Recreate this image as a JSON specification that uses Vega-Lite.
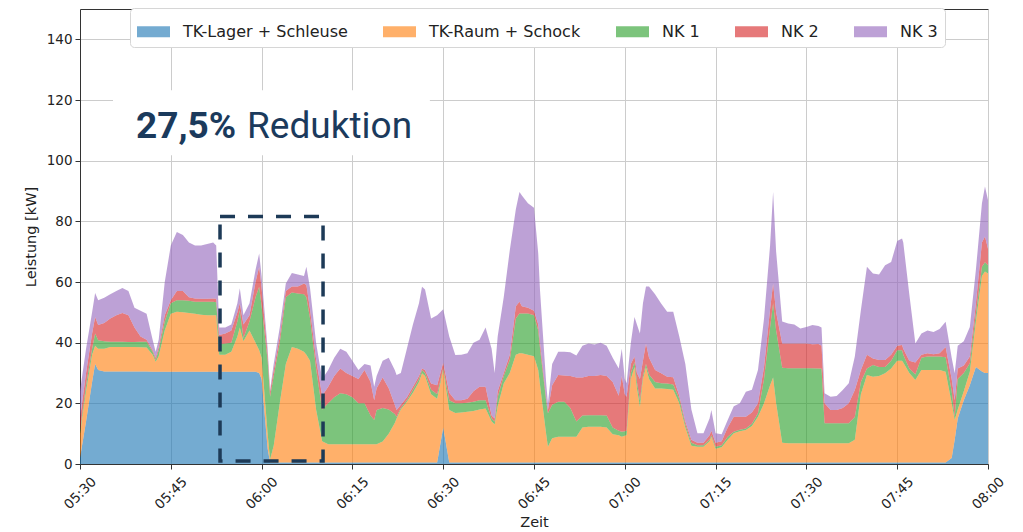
{
"$schema": "https://vega.github.io/schema/vega-lite/v6.json",
"width": 908, "height": 455,
"autosize": {"type": "none"},
"padding": {"left": 80, "top": 9, "right": 35, "bottom": 68},
"background": "white",
"config": {
 "font": "DejaVu Sans",
 "view": {"stroke": "#333", "strokeWidth": 1},
 "axis": {"domainColor": "#333", "tickColor": "#333", "labelColor": "#222", "titleColor": "#222", "labelFontSize": 13.5, "titleFontSize": 14.5, "titleFontWeight": "normal", "gridColor": "#cccccc", "gridWidth": 1, "tickSize": 5, "labelFont": "DejaVu Sans", "titleFont": "DejaVu Sans"}
},
"layer": [
{
 "data": {"values": [
{"m":0,"a":2,"b":8,"c":1,"d":4,"e":9},
{"m":1,"a":14,"b":10,"c":2,"d":4,"e":8},
{"m":2,"a":27,"b":9,"c":2,"d":5,"e":7},
{"m":2.5,"a":33,"b":6,"c":4,"d":5.5,"e":7.9},
{"m":3,"a":31,"b":7,"c":2.8,"d":5,"e":8.2},
{"m":4,"a":30.5,"b":7.5,"c":2.5,"d":6,"e":8.3},
{"m":5,"a":30.5,"b":8.1,"c":1.7,"d":7.7,"e":8},
{"m":6,"a":30.5,"b":8.1,"c":1.7,"d":8.7,"e":8},
{"m":7,"a":30.5,"b":8.1,"c":1.7,"d":9.5,"e":8.2},
{"m":8,"a":30.5,"b":8.1,"c":1.6,"d":8.8,"e":8},
{"m":9,"a":30.5,"b":8.1,"c":1.6,"d":4.8,"e":6.5},
{"m":10,"a":30.5,"b":8,"c":1.8,"d":1.7,"e":8.5},
{"m":11,"a":30.5,"b":7.9,"c":1.9,"d":0.7,"e":8.5},
{"m":12,"a":30.4,"b":5.6,"c":1,"d":0.5,"e":3.5},
{"m":12.5,"a":30.4,"b":3.3,"c":0.6,"d":0.7,"e":2},
{"m":13,"a":30.4,"b":5.1,"c":2,"d":1,"e":2.5},
{"m":14,"a":30.4,"b":13.6,"c":3,"d":2,"e":11},
{"m":15,"a":30.4,"b":19.1,"c":3.5,"d":1,"e":18},
{"m":16,"a":30.4,"b":19.8,"c":3.8,"d":3,"e":19.5},
{"m":17,"a":30.4,"b":19.6,"c":4,"d":3,"e":18.5},
{"m":18,"a":30.4,"b":19.4,"c":4,"d":1.2,"e":18},
{"m":19,"a":30.4,"b":19.1,"c":4,"d":1.1,"e":17.4},
{"m":20,"a":30.4,"b":18.8,"c":4.3,"d":1,"e":17.5},
{"m":21,"a":30.4,"b":18.6,"c":4.5,"d":1,"e":18},
{"m":22,"a":30.4,"b":18.6,"c":4.5,"d":1.1,"e":18.4},
{"m":22.5,"a":30.4,"b":18.6,"c":4.3,"d":1.2,"e":17.5},
{"m":23,"a":30.4,"b":5.6,"c":3.5,"d":3,"e":2.5},
{"m":24,"a":30.4,"b":5.6,"c":3.7,"d":3.3,"e":2},
{"m":25,"a":30.4,"b":6.6,"c":3,"d":4,"e":2},
{"m":26,"a":30.4,"b":11.6,"c":5,"d":3,"e":3},
{"m":26.4,"a":30.4,"b":14.6,"c":5.7,"d":2.3,"e":4.9},
{"m":27,"a":30.4,"b":10.1,"c":1,"d":4.5,"e":3},
{"m":28,"a":30.4,"b":13.6,"c":3,"d":2,"e":4},
{"m":29,"a":30.4,"b":9.6,"c":15,"d":5,"e":4},
{"m":29.6,"a":30,"b":7.5,"c":20.9,"d":6.6,"e":4.4},
{"m":30,"a":28,"b":7,"c":17,"d":6,"e":4},
{"m":31,"a":5,"b":5,"c":24,"d":2,"e":2},
{"m":31.4,"a":0.5,"b":1,"c":20.7,"d":1.6,"e":0.6},
{"m":32,"a":0.5,"b":5.5,"c":23,"d":2,"e":2},
{"m":33,"a":0.5,"b":19.5,"c":20,"d":2,"e":3},
{"m":34,"a":0.5,"b":32.5,"c":22,"d":2,"e":2.5},
{"m":35,"a":0.5,"b":38.1,"c":17.9,"d":2,"e":4.5},
{"m":36,"a":0.5,"b":37.5,"c":18.2,"d":2.3,"e":4},
{"m":37,"a":0.5,"b":36.5,"c":19,"d":3.5,"e":2.5},
{"m":37.4,"a":0.5,"b":35.5,"c":19,"d":4,"e":6},
{"m":38,"a":0.5,"b":33.5,"c":14,"d":3,"e":7},
{"m":39,"a":0.5,"b":17.5,"c":13.5,"d":3,"e":5.5},
{"m":40,"a":0.5,"b":7,"c":10.5,"d":4.5,"e":5.5},
{"m":41,"a":0.5,"b":6,"c":13.5,"d":5.5,"e":5.5},
{"m":42,"a":0.5,"b":6,"c":15.5,"d":7,"e":6},
{"m":43,"a":0.5,"b":6,"c":16.8,"d":8.2,"e":6.5},
{"m":44,"a":0.5,"b":6,"c":16.5,"d":7,"e":7},
{"m":45,"a":0.5,"b":6,"c":15.5,"d":7,"e":5},
{"m":46,"a":0.5,"b":6,"c":13.5,"d":8,"e":3},
{"m":47,"a":0.5,"b":6,"c":13.5,"d":11,"e":2},
{"m":48,"a":0.5,"b":6,"c":9.5,"d":11,"e":5.5},
{"m":48.6,"a":0.5,"b":6,"c":8,"d":6.5,"e":4.5},
{"m":49,"a":0.5,"b":6,"c":11.3,"d":7.2,"e":4},
{"m":50,"a":0.5,"b":6.9,"c":11.1,"d":10,"e":5.5},
{"m":51,"a":0.5,"b":9.5,"c":8,"d":7,"e":10},
{"m":52,"a":0.5,"b":13,"c":3,"d":3,"e":11.5},
{"m":52.3,"a":0.5,"b":14.5,"c":0.6,"d":2.2,"e":11.5},
{"m":53,"a":0.5,"b":17.5,"c":0.5,"d":1,"e":10.5},
{"m":54,"a":0.5,"b":20,"c":0.5,"d":1,"e":16},
{"m":55,"a":0.5,"b":23,"c":1,"d":1,"e":20.5},
{"m":56,"a":0.5,"b":26.5,"c":1,"d":1,"e":24},
{"m":56.5,"a":0.5,"b":29.4,"c":1.1,"d":0.5,"e":26.9},
{"m":57,"a":0.5,"b":28.5,"c":1,"d":1,"e":26.5},
{"m":58,"a":0.5,"b":22.5,"c":1.5,"d":2,"e":21.5},
{"m":59,"a":0.5,"b":21,"c":1.5,"d":3,"e":23},
{"m":60,"a":12,"b":19,"c":0.5,"d":2,"e":17.5},
{"m":61,"a":0.5,"b":17.3,"c":3.2,"d":2.5,"e":18.5},
{"m":62,"a":0.5,"b":16.3,"c":3.2,"d":1,"e":14.9},
{"m":63,"a":0.5,"b":16.5,"c":3,"d":1,"e":15},
{"m":64,"a":0.5,"b":16.7,"c":3,"d":1.3,"e":15},
{"m":65,"a":0.5,"b":17,"c":3,"d":3.5,"e":16},
{"m":66,"a":0.5,"b":17.5,"c":3,"d":4.5,"e":15.5},
{"m":67,"a":0.5,"b":17.8,"c":2.7,"d":4.5,"e":19.5},
{"m":68,"a":0.5,"b":13.5,"c":1,"d":1,"e":22},
{"m":68.5,"a":0.5,"b":12.5,"c":1,"d":1,"e":15},
{"m":69,"a":0.5,"b":18.5,"c":3,"d":2,"e":18},
{"m":70,"a":0.5,"b":26,"c":2.5,"d":1,"e":25},
{"m":71,"a":0.5,"b":29.5,"c":4.3,"d":1.7,"e":34.5},
{"m":72,"a":0.5,"b":35.5,"c":12,"d":4,"e":32},
{"m":72.6,"a":0.5,"b":36,"c":13.1,"d":3.9,"e":36.2},
{"m":73,"a":0.5,"b":36,"c":13.1,"d":2.4,"e":36.5},
{"m":74,"a":0.5,"b":35.5,"c":13.6,"d":1.9,"e":34.5},
{"m":75,"a":0.5,"b":35,"c":13.5,"d":1.5,"e":34},
{"m":75.7,"a":0.5,"b":30.5,"c":13,"d":2,"e":23.4},
{"m":76,"a":0.5,"b":25.5,"c":12,"d":2,"e":17},
{"m":77,"a":0.5,"b":9.5,"c":11,"d":1,"e":5},
{"m":77.3,"a":0.5,"b":5.2,"c":11,"d":1.1,"e":2.2},
{"m":78,"a":0.5,"b":8,"c":11,"d":6.5,"e":7},
{"m":79,"a":0.5,"b":8.5,"c":11.5,"d":8.8,"e":7.7},
{"m":80,"a":0.5,"b":8.5,"c":11.5,"d":8.7,"e":7.8},
{"m":81,"a":0.5,"b":8.5,"c":9.5,"d":10.5,"e":7.8},
{"m":82,"a":0.5,"b":8.5,"c":5,"d":14.5,"e":7.3},
{"m":83,"a":0.5,"b":11.5,"c":4,"d":12.5,"e":10.5},
{"m":84,"a":0.5,"b":11.8,"c":3.8,"d":12.9,"e":10.7},
{"m":85,"a":0.5,"b":11.8,"c":3.8,"d":12.9,"e":10.4},
{"m":86,"a":0.5,"b":11.8,"c":3.8,"d":13.2,"e":10.7},
{"m":87,"a":0.5,"b":11.5,"c":4,"d":13,"e":10},
{"m":88,"a":0.5,"b":9.3,"c":2.2,"d":15,"e":8},
{"m":89,"a":0.5,"b":9,"c":1.5,"d":11.5,"e":9},
{"m":89.5,"a":0.5,"b":8.5,"c":1.6,"d":18.4,"e":9},
{"m":90,"a":0.5,"b":8.8,"c":1.5,"d":12.2,"e":5},
{"m":90.3,"a":0.5,"b":9.1,"c":1.4,"d":11.2,"e":4.4},
{"m":91,"a":0.5,"b":27.5,"c":2,"d":3,"e":7},
{"m":91.6,"a":0.5,"b":31.5,"c":1.6,"d":1.8,"e":13.1},
{"m":92,"a":0.5,"b":24.5,"c":2,"d":3,"e":16},
{"m":92.5,"a":0.5,"b":18.4,"c":2.1,"d":7,"e":15},
{"m":93,"a":0.5,"b":27.5,"c":1,"d":5,"e":19},
{"m":93.5,"a":0.5,"b":31.5,"c":1,"d":6.7,"e":18.8},
{"m":94,"a":0.5,"b":27.5,"c":1.5,"d":5.5,"e":23.5},
{"m":95,"a":0.5,"b":24.4,"c":2.1,"d":4,"e":25},
{"m":96,"a":0.5,"b":24.4,"c":1.7,"d":3.3,"e":23},
{"m":97,"a":0.5,"b":24.2,"c":1.8,"d":2.3,"e":21.4},
{"m":98,"a":0.5,"b":24,"c":1.7,"d":2.4,"e":21.6},
{"m":99,"a":0.5,"b":19.5,"c":1.5,"d":1,"e":19.5},
{"m":100,"a":0.5,"b":11.5,"c":1,"d":1,"e":19},
{"m":101,"a":0.5,"b":5.5,"c":1,"d":1,"e":10},
{"m":102,"a":0.5,"b":5.2,"c":0.5,"d":0.8,"e":3.1},
{"m":103,"a":0.5,"b":5.2,"c":0.5,"d":0.8,"e":3.1},
{"m":104,"a":0.5,"b":7,"c":0.5,"d":1.5,"e":5.5},
{"m":104.3,"a":0.5,"b":8.5,"c":0.5,"d":1.5,"e":6.8},
{"m":105,"a":0.5,"b":4.5,"c":0.7,"d":1.3,"e":3.1},
{"m":106,"a":0.5,"b":5,"c":0.7,"d":1.3,"e":2.3},
{"m":107,"a":0.5,"b":7.5,"c":1,"d":3,"e":2.5},
{"m":108,"a":0.5,"b":9.6,"c":0.5,"d":5,"e":3.4},
{"m":109,"a":0.5,"b":10.3,"c":0.5,"d":4.3,"e":4.4},
{"m":110,"a":0.5,"b":10.7,"c":0.5,"d":3.9,"e":8.2},
{"m":111,"a":0.5,"b":12,"c":0.8,"d":3.7,"e":7.5},
{"m":112,"a":0.5,"b":15.1,"c":1.1,"d":3.3,"e":11},
{"m":113,"a":0.5,"b":19.5,"c":8,"d":4,"e":16},
{"m":114,"a":0.5,"b":25.5,"c":19,"d":6,"e":21},
{"m":114.5,"a":0.5,"b":28,"c":24.5,"d":6.5,"e":30.2},
{"m":115,"a":0.5,"b":19.5,"c":24,"d":6,"e":20},
{"m":116,"a":0.5,"b":6.5,"c":24.7,"d":8,"e":7.3},
{"m":117,"a":0.5,"b":6.3,"c":24.8,"d":8.1,"e":6.6},
{"m":118,"a":0.5,"b":6.3,"c":24.8,"d":8.1,"e":6.3},
{"m":119,"a":0.5,"b":6.3,"c":24.8,"d":8.1,"e":5},
{"m":120,"a":0.5,"b":6.3,"c":24.8,"d":8.1,"e":5.5},
{"m":121,"a":0.5,"b":6.3,"c":24.8,"d":7.9,"e":6.3},
{"m":122,"a":0.5,"b":6.3,"c":24.7,"d":8.1,"e":5.9},
{"m":122.5,"a":0.5,"b":6.3,"c":24.7,"d":7.5,"e":6},
{"m":123,"a":0.5,"b":6.3,"c":6.6,"d":6.6,"e":3.3},
{"m":124,"a":0.5,"b":6.3,"c":6.6,"d":4.4,"e":4.4},
{"m":125,"a":0.5,"b":6.3,"c":6.6,"d":4.4,"e":4.6},
{"m":126,"a":0.5,"b":6.3,"c":6.6,"d":5.1,"e":5.9},
{"m":127,"a":0.5,"b":6.3,"c":6.6,"d":6.6,"e":6.6},
{"m":128,"a":0.5,"b":7.5,"c":7.5,"d":8.9,"e":11},
{"m":129,"a":0.5,"b":22.5,"c":4,"d":4,"e":19.7},
{"m":130,"a":0.5,"b":28.8,"c":2.2,"d":4.5,"e":29},
{"m":131,"a":0.5,"b":28.3,"c":3.8,"d":2.2,"e":28},
{"m":132,"a":0.5,"b":28.5,"c":3,"d":2.3,"e":28.2},
{"m":133,"a":0.5,"b":29.4,"c":2.1,"d":2.3,"e":31.2},
{"m":134,"a":0.5,"b":31,"c":2.5,"d":2,"e":30.6},
{"m":135,"a":0.5,"b":33.5,"c":3.5,"d":1.5,"e":34.5},
{"m":135.8,"a":0.5,"b":33.5,"c":3.5,"d":1.7,"e":35.1},
{"m":136,"a":0.5,"b":33,"c":2.5,"d":2,"e":35},
{"m":137,"a":0.5,"b":29.5,"c":1.5,"d":2.5,"e":22},
{"m":138,"a":0.5,"b":27.2,"c":1.8,"d":4,"e":6.2},
{"m":139,"a":0.5,"b":30.5,"c":4,"d":1,"e":7},
{"m":140,"a":0.5,"b":30.5,"c":4.4,"d":1.1,"e":7.5},
{"m":141,"a":0.5,"b":30.5,"c":4.4,"d":0.8,"e":7.3},
{"m":142,"a":0.5,"b":30.5,"c":4.4,"d":1.1,"e":8},
{"m":143,"a":0.5,"b":29.9,"c":4.8,"d":3.4,"e":8.3},
{"m":144,"a":2,"b":18,"c":4,"d":4,"e":7},
{"m":144.5,"a":8,"b":6.5,"c":1.1,"d":5.4,"e":8.9},
{"m":145,"a":15,"b":3,"c":10,"d":3.5,"e":7.5},
{"m":146,"a":21,"b":3,"c":6,"d":2.5,"e":8},
{"m":147,"a":26,"b":4.4,"c":2.8,"d":2.2,"e":9.8},
{"m":148,"a":32,"b":15,"c":2.6,"d":3.4,"e":11},
{"m":149,"a":30.5,"b":31.5,"c":3,"d":8,"e":13},
{"m":149.5,"a":30,"b":33.5,"c":3,"d":8.5,"e":16.5},
{"m":150,"a":30,"b":32.8,"c":2.7,"d":5.5,"e":16}
 ]},
 "transform": [{"fold": ["a", "b", "c", "d", "e"], "as": ["k", "v"]}],
 "mark": {"type": "area", "opacity": 0.62},
 "encoding": {
  "x": {"field": "m", "type": "quantitative", "title": "Zeit",
        "scale": {"domain": [0, 150], "nice": false, "zero": false},
        "axis": {"values": [0, 15, 30, 45, 60, 75, 90, 105, 120, 135, 150],
                 "labelExpr": "format(floor((330 + datum.value) / 60), '02d') + ':' + format((330 + datum.value) % 60, '02d')",
                 "labelAngle": -45, "labelAlign": "center", "labelBaseline": "middle", "labelPadding": 24, "labelFlush": false, "labelOverlap": false, "titlePadding": 4, "grid": true}},
  "y": {"field": "v", "type": "quantitative", "stack": "zero", "title": "Leistung [kW]",
        "scale": {"domain": [0, 150], "nice": false},
        "axis": {"values": [0, 20, 40, 60, 80, 100, 120, 140], "labelPadding": 3, "titlePadding": 8, "grid": true}},
  "order": {"field": "k", "type": "ordinal", "sort": "ascending"},
  "color": {"field": "k", "type": "nominal",
        "scale": {"domain": ["a", "b", "c", "d", "e"], "range": ["#1f77b4", "#ff7f0e", "#2ca02c", "#d62728", "#9467bd"]},
        "legend": {"orient": "none", "legendX": 50, "legendY": -1, "direction": "horizontal", "title": null,
                   "labelFontSize": 16, "labelFont": "DejaVu Sans", "labelColor": "#222", "labelLimit": 300,
                   "symbolType": "M-1,-0.34H1V0.34H-1Z", "symbolSize": 1089, "symbolOpacity": 0.62, "symbolStrokeWidth": 0,
                   "fillColor": "white", "strokeColor": "#d6d6d6", "cornerRadius": 4, "padding": 7, "columnPadding": 35, "labelOffset": 13,
                   "labelExpr": "datum.label == 'a' ? 'TK-Lager + Schleuse' : datum.label == 'b' ? 'TK-Raum + Schock' : datum.label == 'c' ? 'NK 1' : datum.label == 'd' ? 'NK 2' : 'NK 3'"}}
 }
},
{
 "data": {"values": [{"x1": 5.45, "x2": 57.8, "y1": 101.8, "y2": 123.2}]},
 "mark": {"type": "rect", "fill": "white", "strokeWidth": 0},
 "encoding": {
  "x": {"field": "x1", "type": "quantitative", "title": "Zeit"}, "x2": {"field": "x2"},
  "y": {"field": "y1", "type": "quantitative", "title": "Leistung [kW]"}, "y2": {"field": "y2"}
 }
},
{
 "data": {"values": [{"x": 9.25, "y": 107.6, "s": "27,5%"}]},
 "mark": {"type": "text", "align": "left", "baseline": "alphabetic", "font": "Roboto", "fontSize": 37, "fontWeight": "bold", "color": "#1b3a5c"},
 "encoding": {
  "x": {"field": "x", "type": "quantitative", "title": "Zeit"},
  "y": {"field": "y", "type": "quantitative", "title": "Leistung [kW]"},
  "text": {"field": "s"}
 }
},
{
 "data": {"values": [{"x": 27.6, "y": 107.6, "s": "Reduktion"}]},
 "mark": {"type": "text", "align": "left", "baseline": "alphabetic", "font": "Roboto", "fontSize": 37, "fontWeight": "normal", "color": "#1b3a5c"},
 "encoding": {
  "x": {"field": "x", "type": "quantitative", "title": "Zeit"},
  "y": {"field": "y", "type": "quantitative", "title": "Leistung [kW]"},
  "text": {"field": "s"}
 }
},
{
 "data": {"values": [{"x1": 23.13, "x2": 40.15, "y1": 1.0, "y2": 81.6}]},
 "mark": {"type": "rect", "fill": "white", "fillOpacity": 0, "stroke": "#1d3a57", "strokeWidth": 3.5, "strokeDash": [15, 13]},
 "encoding": {
  "x": {"field": "x1", "type": "quantitative", "title": "Zeit"}, "x2": {"field": "x2"},
  "y": {"field": "y1", "type": "quantitative", "title": "Leistung [kW]"}, "y2": {"field": "y2"}
 }
}
]
}
